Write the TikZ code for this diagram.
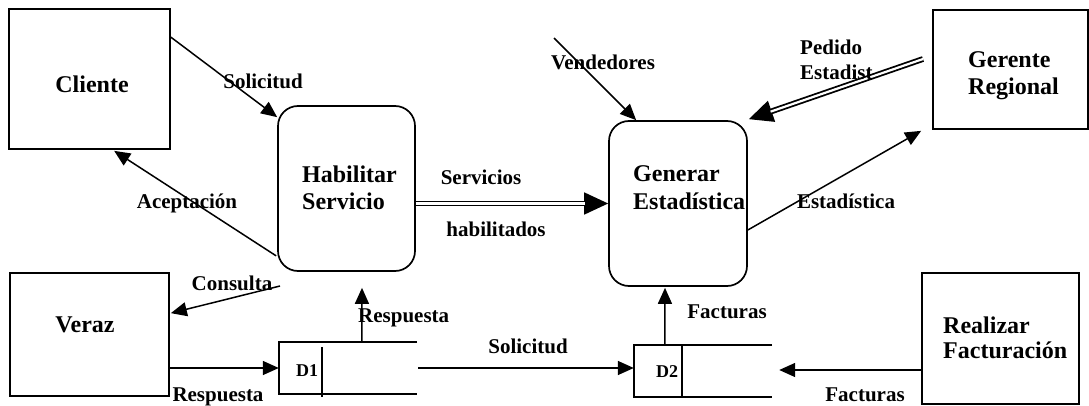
\documentclass[tikz,border=0pt]{standalone}
\usepackage{fontspec}
\setmainfont{Liberation Serif}
\usetikzlibrary{arrows.meta,calc}
\newcommand\ttlfnt{\fontsize{24}{26}\selectfont\bfseries}
\newcommand\lblfnt{\fontsize{21}{24}\selectfont\bfseries}
\newcommand\dsfnt{\fontsize{18}{20}\selectfont\bfseries}
\tikzset{
  entbox/.style={draw, line width=1.7pt, inner sep=0pt},
  procbox/.style={draw, line width=1.7pt, rounded corners=20pt, inner sep=0pt},
  storebox/.style={inner sep=0pt},
  storeline/.style={line width=1.7pt},
  ttl/.style={font=\ttlfnt, inner sep=0pt},
  lbl/.style={font=\lblfnt, inner sep=0pt},
  dsl/.style={font=\dsfnt, inner sep=0pt},
  flow/.style={line width=1.5pt, -{Triangle[length=16pt,width=14pt]}},
  dblflow/.style={line width=1.8pt, double, double distance=2.2pt},
  bigtip/.style={line width=1.5pt, -{Triangle[length=24pt,width=22pt]}},
}
\begin{document}
\begin{tikzpicture}[x=1pt,y=-1pt]
\useasboundingbox (0,0) rectangle (1089,406);

% boxes
\node[entbox, minimum width=161pt, minimum height=140pt] (cliente) at (89.5,79) {};
\node[procbox, minimum width=137pt, minimum height=165pt] (habil) at (346.5,188.5) {};
\node[procbox, minimum width=138pt, minimum height=165pt] (generar) at (678,203.5) {};
\node[entbox, minimum width=155pt, minimum height=119pt] (gerente) at (1010.5,69.5) {};
\node[entbox, minimum width=159pt, minimum height=123pt] (veraz) at (89.5,334.5) {};
\node[entbox, minimum width=157pt, minimum height=131pt] (realizar) at (1000.5,338.5) {};

% data stores
\node[storebox, minimum width=138pt, minimum height=52pt] (d1) at (348,368) {};
\draw[storeline] (d1.north east) -- (d1.north west) -- (d1.south west) -- (d1.south east);
\draw[storeline] ($(d1.north west)+(43,5)$) -- ($(d1.south west)+(43,3)$);
\node[storebox, minimum width=138pt, minimum height=51pt] (d2) at (703,371) {};
\draw[storeline] (d2.north east) -- (d2.north west) -- (d2.south west) -- (d2.south east);
\draw[storeline] ($(d2.north west)+(48,0)$) -- ($(d2.south west)+(48,0)$);

% titles
\node[ttl, anchor=base] (tcli) at (92,93) {Cliente};
\node[ttl, anchor=base west] (thab1) at (302,183) {Habilitar};
\node[ttl, anchor=base west] (thab2) at (302,210) {Servicio};
\node[ttl, anchor=base west] (tgen1) at (633,182) {Generar};
\node[ttl, anchor=base west] (tgen2) at (633,210) {Estadística};
\node[ttl, anchor=base west] (tger1) at (968,68) {Gerente};
\node[ttl, anchor=base west] (tger2) at (968,95) {Regional};
\node[ttl, anchor=base] (tver) at (85,332) {Veraz};
\node[ttl, anchor=base west] (trea1) at (943,333) {Realizar};
\node[ttl, anchor=base west] (trea2) at (943,358) {Facturación};
\node[dsl, anchor=base] (td1) at (307,376) {D1};
\node[dsl, anchor=base] (td2) at (667,377) {D2};

% free ends
\coordinate (vendfrom) at (554,38);
\coordinate (pedfrom) at (923,59);
\coordinate (consfrom) at (280,286);

% connectors
\draw[flow] ($(cliente.north east)+(0,29)$) -- ($(habil.north west)+(0,12)$);
\draw[flow] ($(habil.south west)+(-1,-16)$) -- ($(cliente.south west)+(106,1)$);
\draw[flow] (vendfrom) -- ($(generar.north west)+(28,0)$);
\draw[flow] ($(generar.east)+(0,26.5)$) -- ($(gerente.south west)+(-11,1)$);
\draw[flow] (consfrom) -- ($(veraz.north east)+(1,41)$);
\draw[flow] ($(d1.north west)+(83,0)$) -- ($(habil.south)+(15.5,16)$);
\draw[flow] ($(veraz.east)+(0,33.5)$) -- (d1.west);
\draw[flow] ($(d1.east)+(1,0)$) -- (d1.east -| d2.west);
\draw[flow] ($(d2.north west)+(31,0)$) -- ($(generar.south)+(-13,1)$);
\draw[flow] ($(realizar.west)+(0,31.5)$) -- ($(d2.east)+(7,-1)$);

% double flows
\coordinate (servfrom) at (habil.east |- generar.west);
\coordinate (servto) at (generar.west);
\draw[bigtip] ($(servto)!25pt!(servfrom)$) -- (servto);
\draw[dblflow, shorten >=23pt] (servfrom) -- (servto);
\coordinate (pedto) at ($(generar.north east)+(1,-1)$);
\draw[bigtip] ($(pedto)!25pt!(pedfrom)$) -- (pedto);
\draw[dblflow, shorten >=23pt] (pedfrom) -- (pedto);

% labels
\node[lbl, anchor=base] (lsol1) at (263,89) {Solicitud};
\node[lbl, anchor=base] (lacep) at (187,208) {Aceptación};
\node[lbl, anchor=base] (lserv1) at (481,185) {Servicios};
\node[lbl, anchor=base] (lserv2) at (496,236) {habilitados};
\node[lbl, anchor=base] (lvend) at (603,70) {Vendedores};
\node[lbl, anchor=base west] (lped1) at (800,55) {Pedido};
\node[lbl, anchor=base west] (lped2) at (800,80) {Estadist};
\node[lbl, anchor=base] (lest) at (846,208) {Estadística};
\node[lbl, anchor=base] (lcons) at (232,290) {Consulta};
\node[lbl, anchor=base west] (lresp1) at (358,322) {Respuesta};
\node[lbl, anchor=base] (lresp2) at (218,401) {Respuesta};
\node[lbl, anchor=base] (lsol2) at (528,353) {Solicitud};
\node[lbl, anchor=base] (lfac1) at (727,318) {Facturas};
\node[lbl, anchor=base] (lfac2) at (865,401) {Facturas};
\end{tikzpicture}
\end{document}
